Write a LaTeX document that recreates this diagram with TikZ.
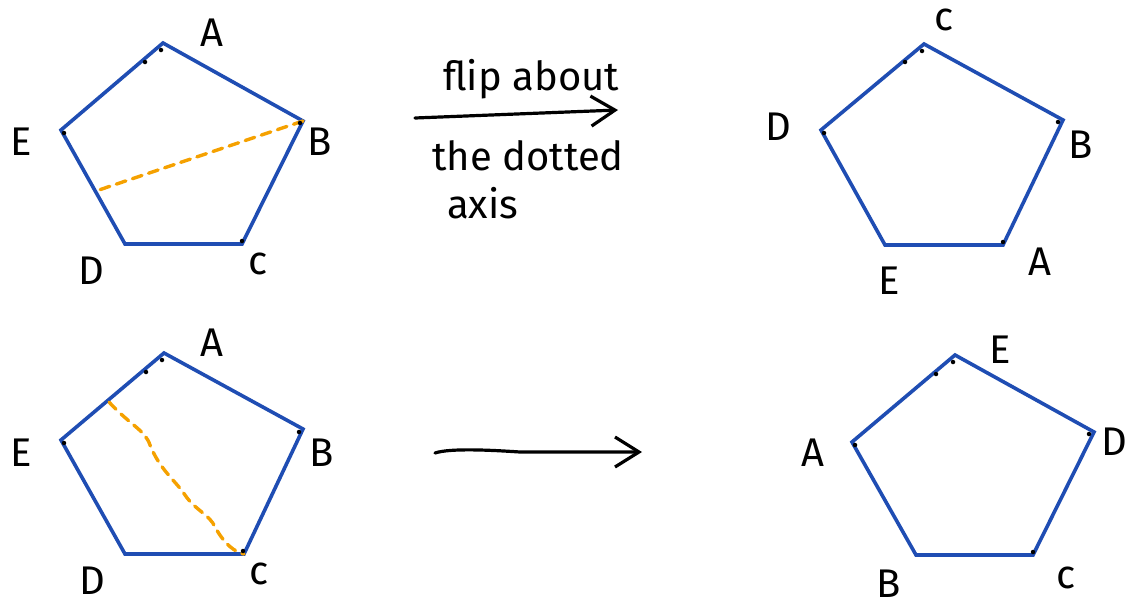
\documentclass[tikz,border=0pt]{standalone}
\usepackage{fontspec}
\setmainfont{Fira Sans}
\usetikzlibrary{arrows.meta}
\definecolor{pblue}{HTML}{1F4DB3}
\definecolor{porange}{HTML}{F5A100}
\tikzset{
  pent/.style={draw=pblue, line width=3.6pt, line join=miter},
  axisline/.style={draw=porange, line width=3.4pt, dash pattern=on 10pt off 7pt, line cap=round},
  lbl/.style={font=\fontsize{40}{44}\selectfont, inner sep=0pt},
  note/.style={font=\fontsize{40}{44}\selectfont, inner sep=0pt, anchor=base west},
  flip/.style={draw=black, line width=3.2pt, line cap=round, -{Straight Barb[length=24pt,width=30pt,line width=3.2pt]}},
  tick/.style={fill=black, circle, inner sep=0pt, minimum size=4.5pt}
}
\begin{document}
\begin{tikzpicture}[x=1pt,y=-1pt]
\useasboundingbox (0,0) rectangle (1131,608);
% ---------- top left pentagon ----------
\coordinate (a1A) at (163,43);
\coordinate (a1B) at (303,121);
\coordinate (a1C) at (242,244);
\coordinate (a1D) at (125,244);
\coordinate (a1E) at (61,130);
\draw[pent] (a1A) -- (a1B) -- (a1C) -- (a1D) -- (a1E) -- cycle;
\coordinate (a1X) at (96,191);
\draw[axisline] (a1B) -- (a1X);
\node[tick] (t1a) at (161,50) {};
\node[tick] (t1b) at (145,62) {};
\node[tick] (t1c) at (300,123) {};
\node[tick] (t1d) at (242,241) {};
\node[tick] (t1e) at (64,133) {};
\node[lbl] (l1A) at (212,33) {A};
\node[lbl] (l1B) at (320,142) {B};
\node[lbl] (l1C) at (258,264) {c};
\node[lbl] (l1D) at (91,271) {D};
\node[lbl] (l1E) at (21,142) {E};
% ---------- top right pentagon ----------
\coordinate (b1C) at (924,44);
\coordinate (b1B) at (1063,120);
\coordinate (b1A) at (1003,245);
\coordinate (b1E) at (885,245);
\coordinate (b1D) at (821,130);
\draw[pent] (b1C) -- (b1B) -- (b1A) -- (b1E) -- (b1D) -- cycle;
\node[tick] (t2a) at (922,51) {};
\node[tick] (t2b) at (905,62) {};
\node[tick] (t2c) at (1058,122) {};
\node[tick] (t2d) at (1003,242) {};
\node[tick] (t2e) at (824,133) {};
\node[lbl] (l2C) at (944,20) {c};
\node[lbl] (l2B) at (1081,145) {B};
\node[lbl] (l2A) at (1040,262) {A};
\node[lbl] (l2E) at (889,281) {E};
\node[lbl] (l2D) at (778,127) {D};
% ---------- bottom left pentagon ----------
\coordinate (c1A) at (164,353);
\coordinate (c1B) at (303,429);
\coordinate (c1C) at (244,554);
\coordinate (c1D) at (125,554);
\coordinate (c1E) at (61,440);
\draw[pent] (c1A) -- (c1B) -- (c1C) -- (c1D) -- (c1E) -- cycle;
\coordinate (c1X) at (109,402);
\draw[axisline] (c1X) .. controls (130,425) and (145,430) .. (150,445)
  .. controls (160,470) and (175,480) .. (185,495)
  .. controls (195,510) and (210,515) .. (215,527)
  .. controls (225,545) and (235,552) .. (c1C);
\node[tick] (t3a) at (162,360) {};
\node[tick] (t3b) at (146,372) {};
\node[tick] (t3c) at (299,432) {};
\node[tick] (t3d) at (243,551) {};
\node[tick] (t3e) at (64,443) {};
\node[lbl] (l3A) at (212,343) {A};
\node[lbl] (l3B) at (322,453) {B};
\node[lbl] (l3C) at (259,574) {c};
\node[lbl] (l3D) at (92,581) {D};
\node[lbl] (l3E) at (21,453) {E};
% ---------- bottom right pentagon ----------
\coordinate (d1E) at (955,355);
\coordinate (d1D) at (1094,432);
\coordinate (d1C) at (1033,555);
\coordinate (d1B) at (916,555);
\coordinate (d1A) at (852,442);
\draw[pent] (d1E) -- (d1D) -- (d1C) -- (d1B) -- (d1A) -- cycle;
\node[tick] (t4a) at (953,362) {};
\node[tick] (t4b) at (936,374) {};
\node[tick] (t4c) at (1089,434) {};
\node[tick] (t4d) at (1033,552) {};
\node[tick] (t4e) at (855,445) {};
\node[lbl] (l4E) at (1000,350) {E};
\node[lbl] (l4D) at (1114,442) {D};
\node[lbl] (l4C) at (1066,578) {c};
\node[lbl] (l4B) at (889,584) {B};
\node[lbl] (l4A) at (813,453) {A};
% ---------- arrows and text ----------
\coordinate (f1s) at (415,118);
\coordinate (f1e) at (618,110);
\draw[flip] (f1s) -- (f1e);
\node[note] (n1) at (443,90) {flip about};
\node[note] (n2) at (432,170) {the dotted};
\node[note] (n3) at (447,218) {axis};
\coordinate (f2s) at (435,453);
\coordinate (f2e) at (642,452);
\draw[flip] (f2s) .. controls (450,448) and (490,450) .. (520,452) -- (f2e);
\end{tikzpicture}
\end{document}
